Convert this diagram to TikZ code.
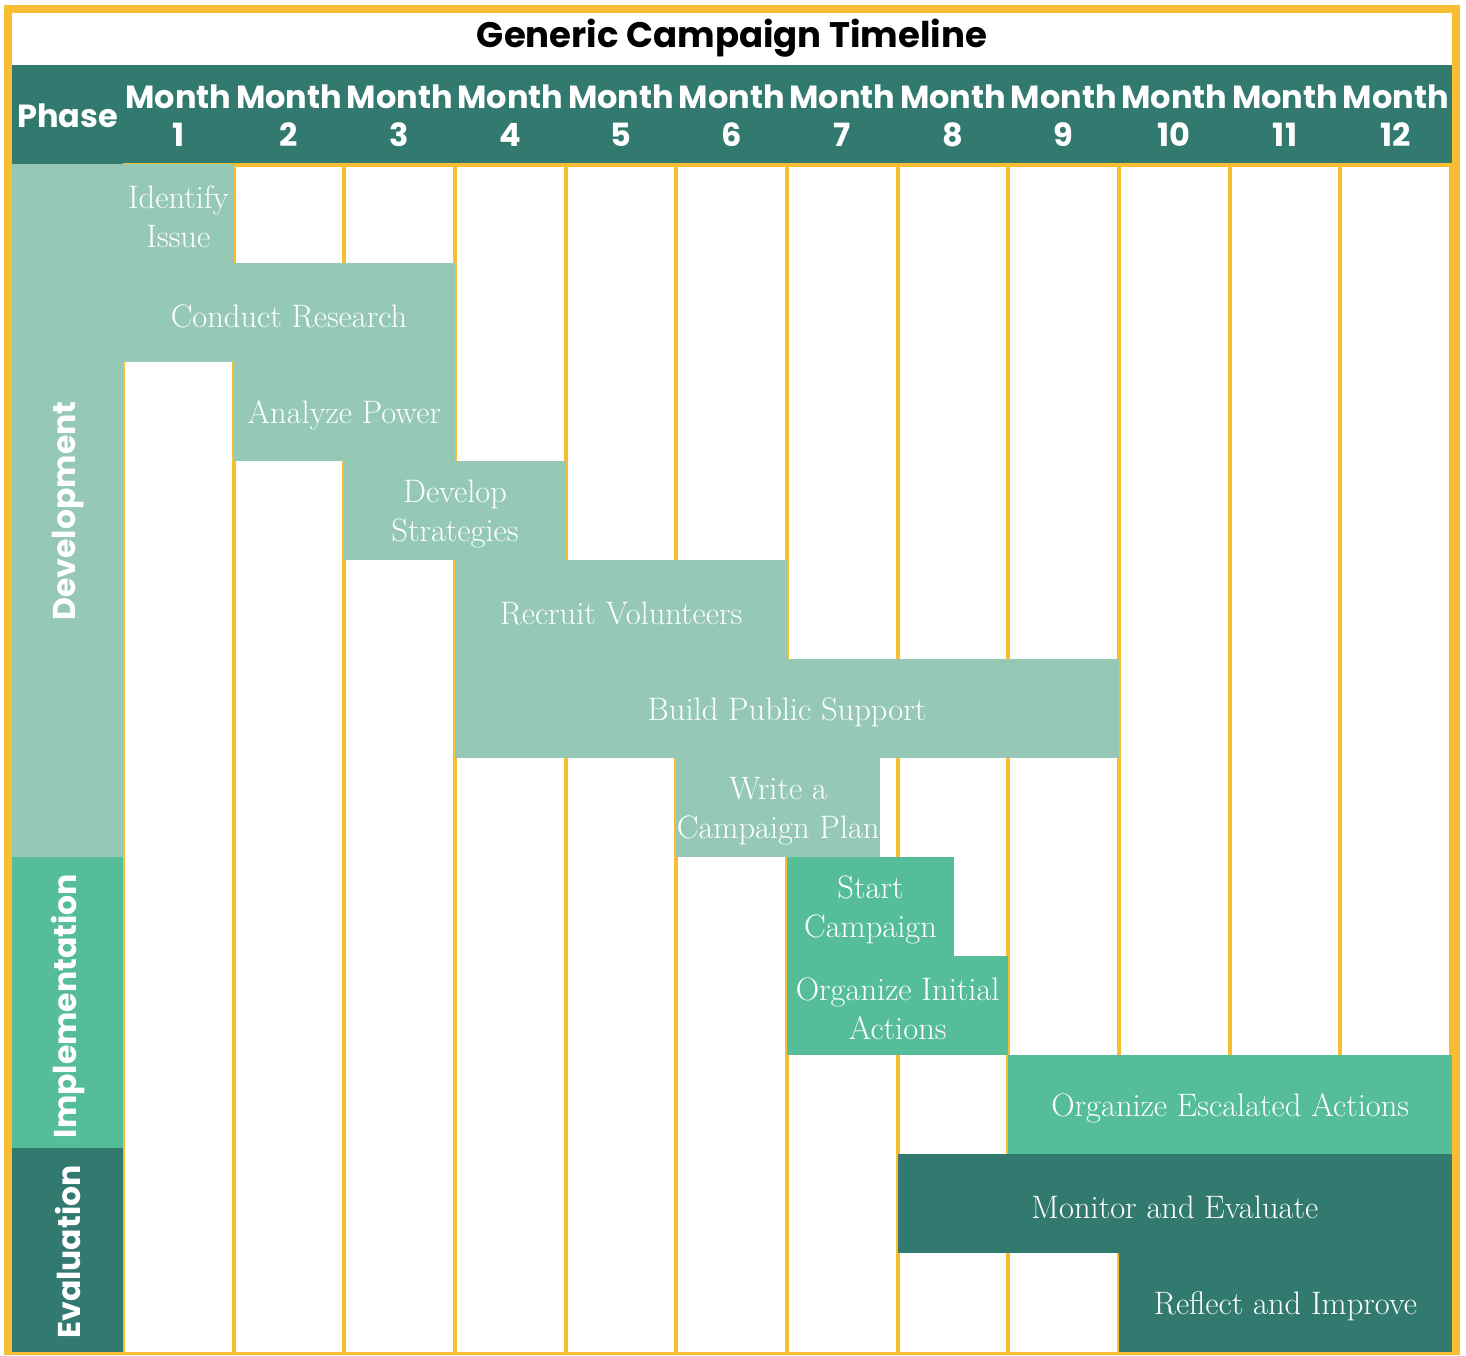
\documentclass[tikz,border=0pt]{standalone}
\usepackage{fontspec}
\newfontfamily\hfont{Poppins}
\definecolor{gold}{HTML}{F8BE33}
\definecolor{lightg}{HTML}{95C9B6}
\definecolor{midg}{HTML}{55BE99}
\definecolor{darkg}{HTML}{327A6F}
\newcommand\taskbar[7]{%
  \fill[#6] (#2,#3) rectangle (#4,#5);
  \node[bartext] (#1) at ({(#2+#4)/2},{(#3+#5)/2+3.5}) {#7};}
\begin{document}
\begin{tikzpicture}[x=1pt,y=-1pt,
  bartext/.style={text=white,align=center,inner sep=0pt,font=\fontsize{32.5}{39}\selectfont},
  headtext/.style={text=white,align=center,inner sep=0pt,font=\hfont\bfseries\fontsize{32}{38}\selectfont},
  phasetext/.style={text=white,rotate=90,inner sep=0pt,font=\hfont\bfseries\fontsize{31.5}{36}\selectfont},
  gridline/.style={draw=gold,line width=4pt}]
\useasboundingbox (0,0) rectangle (1466,1355);
% frame
\fill[gold] (4,5) rectangle (1460,1355);
\fill[white] (12,13) rectangle (1452,1352);
% title
\node[inner sep=0pt,font=\hfont\bfseries\fontsize{35.5}{40}\selectfont] (title) at (732,38) {Generic Campaign Timeline};
% header
\fill[darkg] (12,65) rectangle (1452,164);
\node[headtext] (phase) at (67.5,116) {Phase};
\foreach \i in {1,...,12}{
  \node[headtext] (m\i) at ({123+(\i-0.5)*110.667},116) {Month\\\i};
}
% grid lines
\draw[gridline] (123,165) -- (1452,165);
\foreach \i in {0,...,12}{
  \draw[gridline] ({123+\i*110.667},164) -- ({123+\i*110.667},1352);
}
% phase column
\fill[lightg] (12,164) rectangle (123,857);
\fill[midg] (12,857) rectangle (123,1148);
\fill[darkg] (12,1148) rectangle (123,1352);
\node[phasetext] (dev) at (68,511) {Development};
\node[phasetext] (impl) at (68,1006) {Implementation};
\node[phasetext] (eval) at (68,1252) {Evaluation};
% bars
\taskbar{t1}{123}{164}{233.67}{263}{lightg}{Identify\\Issue}
\taskbar{t2}{123}{263}{455}{362}{lightg}{Conduct Research}
\fill[lightg] (12,263) rectangle (124,362);
\taskbar{t3}{233.67}{362}{455}{461}{lightg}{Analyze Power}
\taskbar{t4}{344.33}{461}{565.67}{560}{lightg}{Develop\\Strategies}
\taskbar{t5}{455}{560}{787}{659}{lightg}{Recruit Volunteers}
\taskbar{t6}{455}{659}{1119}{758}{lightg}{Build Public Support}
\taskbar{t7}{676.33}{758}{880}{857}{lightg}{Write a\\Campaign Plan}
\taskbar{t8}{787}{857}{954}{956}{midg}{Start\\Campaign}
\taskbar{t9}{787}{956}{1008.33}{1055}{midg}{Organize Initial\\Actions}
\taskbar{t10}{1008.33}{1055}{1452}{1154}{midg}{Organize Escalated Actions}
\taskbar{t11}{897.67}{1154}{1452}{1253}{darkg}{Monitor and Evaluate}
\taskbar{t12}{1119}{1253}{1452}{1352}{darkg}{Reflect and Improve}
\end{tikzpicture}
\end{document}
